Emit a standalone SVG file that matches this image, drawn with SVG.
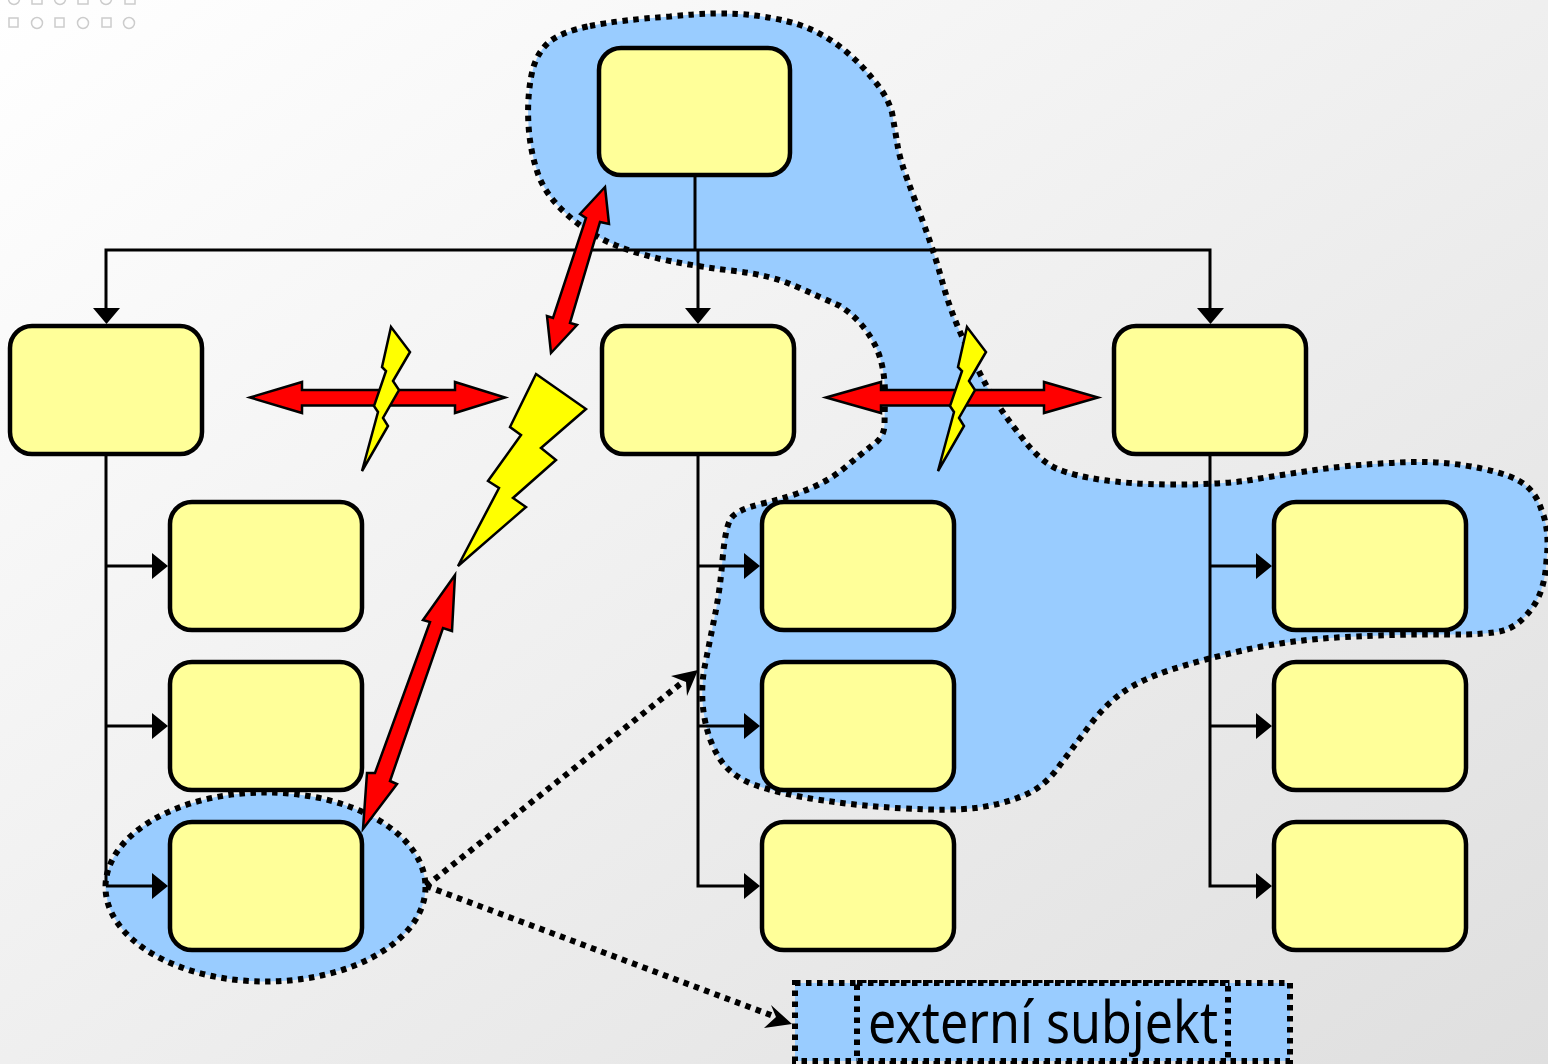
<svg xmlns="http://www.w3.org/2000/svg" width="1548" height="1064" viewBox="0 0 1548 1064">
<style>
.blob{fill:#99ccff;stroke:#000;stroke-width:6;stroke-dasharray:5.500 5.500}
.node{fill:#ffff99;stroke:#000;stroke-width:4.500}
.conn{fill:none;stroke:#000;stroke-width:3}
.head{fill:#000}
.red{fill:#ff0000;stroke:#000;stroke-width:2.500;stroke-linejoin:miter}
.bolt{fill:#ffff00;stroke:#000;stroke-width:2.500;stroke-linejoin:miter}
.deco{fill:none;stroke:#cccccc;stroke-width:1.500}
.dot{fill:none;stroke:#000;stroke-width:6;stroke-dasharray:5.500 5.500}
</style>
<defs>
<linearGradient id="bg" x1="0" y1="0" x2="1" y2="1"><stop offset="0" stop-color="#ffffff"/><stop offset="1" stop-color="#dfdfdf"/></linearGradient>
</defs>
<rect width="1548" height="1064" fill="url(#bg)"/>
<g id="deco">
<circle class="deco" cx="14" cy="-1" r="5.500"/><rect class="deco" x="32" y="-6" width="10" height="10"/><circle class="deco" cx="60" cy="-1" r="5.500"/><rect class="deco" x="78" y="-6" width="10" height="10"/><circle class="deco" cx="106" cy="-1" r="5.500"/><rect class="deco" x="125" y="-6" width="10" height="10"/>
<rect class="deco" x="9" y="18" width="9" height="9"/><circle class="deco" cx="37" cy="23" r="5.500"/><rect class="deco" x="55" y="18" width="9" height="9"/><circle class="deco" cx="83" cy="23" r="5.500"/><rect class="deco" x="102" y="18" width="9" height="9"/><circle class="deco" cx="129" cy="23" r="5.500"/>
</g>
<g id="regions">
<path id="region-a" class="blob" d="M590,26 Q620,20 670,16.500 Q720,11 755,15.500 Q790,20 810,29 Q830,38 846,51.500 Q862,65 873.500,80 Q887,95 892,112.500 Q895,130 897.500,145 Q900,160 907.500,180 Q915,200 925,227.500 Q935,255 942.500,282.500 Q950,310 962.500,337.500 Q975,365 987.500,387.500 Q1000,410 1020,435 Q1040,462 1057.500,469 Q1075,476 1102.500,480 Q1130,484 1170,484.500 Q1210,485 1245,481 Q1280,475 1315,470 Q1350,465 1390,463 Q1430,460 1465,465.500 Q1500,471 1517.500,480 Q1535,489 1541.500,510 Q1550,530 1546.500,560 Q1545,590 1532.500,607.500 Q1520,625 1505,630 Q1490,635 1445,634.500 Q1400,634 1345,637 Q1290,640 1245,650 Q1200,660 1170,670 Q1140,680 1122.500,692.500 Q1105,705 1090,725 Q1075,745 1060,765 Q1045,787 1022.500,796 Q1000,805 975,808 Q950,811 905,808.500 Q860,806 820,800 Q780,794 755,785 Q730,776 719,757.500 Q708,740 704,715 Q700,690 705,665 Q710,640 715,615 Q720,590 722.500,560 Q725,530 730,520 Q735,510 762.500,503.500 Q790,497 810,488.500 Q830,480 845,467.500 Q860,455 872,445.500 Q884,438 884.500,425 L885,395 Q885,365 875,345 Q862,320 840,306 Q820,297 795,286 Q770,275 735,271 Q700,267 670,261 Q640,255 615,245 Q590,235 567.500,215 Q545,195 537.500,172.500 Q530,150 528.500,125 Q527,100 531,77.500 Q535,55 547.500,43.500 Q560,32 590,26 Z"/>
<ellipse id="region-b" class="blob" cx="265.500" cy="887" rx="160" ry="94.500"/>
</g>
<g id="connectors">
<path class="conn" d="M695,175V250M106,310V250H1210V310M695,250H698V310"/>
<path class="conn" d="M106,454V886M106,566H156M106,726H156M106,886H156"/>
<path class="conn" d="M698,454V886H748M698,566H748M698,726H748"/>
<path class="conn" d="M1210,454V886H1260M1210,566H1260M1210,726H1260"/>
<path class="head" d="M93,308H120L106.500,324ZM685,308H711L698,324ZM1197,308H1224L1210.500,324Z"/>
<path class="head" d="M152,553L168,566L152,579ZM152,713L168,726L152,739ZM152,873L168,886L152,899ZM744,553L760,566L744,579ZM744,713L760,726L744,739ZM744,873L760,886L744,899ZM1256,553L1272,566L1256,579ZM1256,713L1272,726L1256,739ZM1256,873L1272,886L1256,899Z"/>
<path class="dot" d="M426,886L684,681M426,886L776,1017"/>
<path class="head" d="M698,670L671,676L686,682L687,696ZM792,1024L764,1028L776,1017L771,1005Z"/>
</g>
<g id="external">
<rect class="blob" x="795" y="983" width="495" height="78"/>
<rect class="blob" x="857" y="983" width="371" height="78"/>
<text x="868" y="1043" font-family="'Noto Sans',sans-serif" font-size="58" textLength="350" lengthAdjust="spacingAndGlyphs" fill="#000">externí subjekt</text>
</g>
<g id="n1"><rect class="node" x="599" y="48" width="191" height="127" rx="22"/></g>
<g id="n2"><rect class="node" x="10" y="326" width="192" height="128" rx="22"/></g>
<g id="n3"><rect class="node" x="602" y="326" width="192" height="128" rx="22"/></g>
<g id="n4"><rect class="node" x="1114" y="326" width="192" height="128" rx="22"/></g>
<g id="n5"><rect class="node" x="170" y="502" width="192" height="128" rx="22"/></g>
<g id="n6"><rect class="node" x="170" y="662" width="192" height="128" rx="22"/></g>
<g id="n7"><rect class="node" x="170" y="822" width="192" height="128" rx="22"/></g>
<g id="n8"><rect class="node" x="762" y="502" width="192" height="128" rx="22"/></g>
<g id="n9"><rect class="node" x="762" y="662" width="192" height="128" rx="22"/></g>
<g id="n10"><rect class="node" x="762" y="822" width="192" height="128" rx="22"/></g>
<g id="n11"><rect class="node" x="1274" y="502" width="192" height="128" rx="22"/></g>
<g id="n12"><rect class="node" x="1274" y="662" width="192" height="128" rx="22"/></g>
<g id="n13"><rect class="node" x="1274" y="822" width="192" height="128" rx="22"/></g>
<g id="conflicts">
<polygon class="red" points="250,397.500 302,382 302,390 455,390 455,382 505,397.500 455,413 455,405.500 302,405.500 302,413"/>
<polygon class="red" points="826,397.500 881,382 881,390 1044,390 1044,382 1098,397.500 1044,413 1044,405.500 881,405.500 881,413"/>
<polygon class="red" points="605,187 609,224 600,222 570,323 577,325 551,353 547,316 553,318 586,218 580,214"/>
<polygon class="red" points="455,575 452,631 443,628 390,781 397,784 363,829 367,773 375,773 430,622 423,620"/>
<polygon class="bolt" points="536,374 586,409 541,448 556,460 513,498 526,507 458,566 499,488 488,481 521,435 510,427"/>
<polygon id="bolt-s" class="bolt" points="391,327 410,352 393,381 399,390 383,418 388,426 362,471 378,412 374,406 386,371 382,367"/>
<polygon class="bolt" points="967,327 986,352 969,381 975,390 959,418 964,426 938,471 954,412 950,406 962,371 958,367"/>
</g>
</svg>
